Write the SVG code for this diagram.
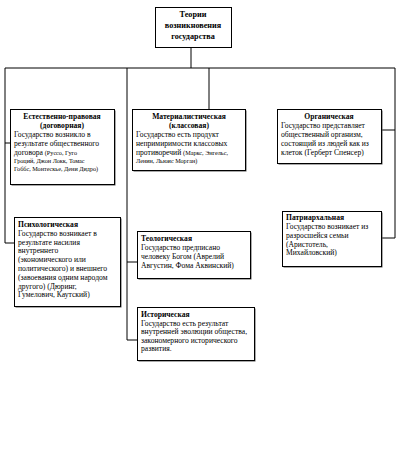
<svg xmlns="http://www.w3.org/2000/svg" width="404" height="449" viewBox="0 0 404 449">
<style>
  text { font-family: "Liberation Serif", "Times New Roman", serif; font-size: 7.6px; fill: #000; }
  .b { font-weight: bold; }
  .c { text-anchor: middle; }
  .s { font-size: 6.2px; }
  .box { fill: #fff; stroke: #000; stroke-width: 1; }
  .sh { fill: #555; }
  .ln { stroke: #000; stroke-width: 1; fill: none; }
</style>
<rect width="404" height="449" fill="#fff"/>
<g id="connectors">
  <path class="ln" d="M191 47 V68 M5 68 H395 M5 68 V243 H14 M5 143 H10 M127 68 V340 H137 M127 262 H137 M209 68 V109 M395 68 V238 H382 M395 130 H382"/>
</g>
<g id="root">
  <rect class="box" x="155.5" y="7.5" width="76" height="40"/>
  <text class="b c" x="193" y="17" style="font-size:8.2px">Теории</text>
  <text class="b c" x="193" y="28" style="font-size:8.2px">возникновения</text>
  <text class="b c" x="193" y="39" style="font-size:8.2px">государства</text>
</g>
<g id="natural">
  <rect class="sh" x="11.5" y="110.5" width="104" height="75"/>
  <rect class="box" x="10.5" y="109.5" width="104" height="75"/>
  <text class="b c" x="62" y="119">Естественно-правовая</text>
  <text class="b c" x="62" y="128">(договорная)</text>
  <text x="14" y="137">Государство возникло в</text>
  <text x="14" y="146">результате общественного</text>
  <text x="14" y="155">договора <tspan class="s">(Руссо, Гуго</tspan></text>
  <text class="s" x="14" y="163">Гроций, Джон Локк, Томас</text>
  <text class="s" x="14" y="171">Гоббс, Монтескье, Дени Дидро)</text>
</g>
<g id="materialist">
  <rect class="sh" x="133.5" y="110.5" width="113" height="61"/>
  <rect class="box" x="132.5" y="109.5" width="113" height="61"/>
  <text class="b c" x="189" y="119">Материалистическая</text>
  <text class="b c" x="189" y="128">(классовая)</text>
  <text x="136" y="137">Государство есть продукт</text>
  <text x="136" y="146">непримиримости классовых</text>
  <text x="136" y="155">противоречий <tspan class="s">(Маркс, Энгельс,</tspan></text>
  <text class="s" x="136" y="163">Ленин, Льюис Морган)</text>
</g>
<g id="organic">
  <rect class="sh" x="278.5" y="110.5" width="104" height="54"/>
  <rect class="box" x="277.5" y="109.5" width="104" height="54"/>
  <text class="b c" x="329" y="119">Органическая</text>
  <text x="281" y="128">Государство представляет</text>
  <text x="281" y="137">общественный организм,</text>
  <text x="281" y="146">состоящий из людей как из</text>
  <text x="281" y="155">клеток (Герберт Спенсер)</text>
</g>
<g id="psychological">
  <rect class="sh" x="15.5" y="218.5" width="106" height="89"/>
  <rect class="box" x="14.5" y="217.5" width="106" height="89"/>
  <text class="b" x="18" y="227">Психологическая</text>
  <text x="18" y="236">Государство возникает в</text>
  <text x="18" y="245">результате насилия</text>
  <text x="18" y="253">внутреннего</text>
  <text x="18" y="262">(экономического или</text>
  <text x="18" y="271">политического) и внешнего</text>
  <text x="18" y="280">(завоевания одним народом</text>
  <text x="18" y="289">другого) (Дюринг,</text>
  <text x="18" y="297">Гумелович, Каутский)</text>
</g>
<g id="theological">
  <rect class="sh" x="138.5" y="232.5" width="113" height="47"/>
  <rect class="box" x="137.5" y="231.5" width="113" height="47"/>
  <text class="b" x="141" y="241">Теологическая</text>
  <text x="141" y="250">Государство предписано</text>
  <text x="141" y="259">человеку Богом (Аврелий</text>
  <text x="141" y="268">Августин, Фома Аквинский)</text>
</g>
<g id="historical">
  <rect class="sh" x="138.5" y="308.5" width="117" height="53"/>
  <rect class="box" x="137.5" y="307.5" width="117" height="53"/>
  <text class="b" x="141" y="317">Историческая</text>
  <text x="141" y="326">Государство есть результат</text>
  <text x="141" y="334">внутренней эволюции общества,</text>
  <text x="141" y="343">закономерного исторического</text>
  <text x="141" y="351">развития.</text>
</g>
<g id="patriarchal">
  <rect class="sh" x="283.5" y="212.5" width="99" height="55"/>
  <rect class="box" x="282.5" y="211.5" width="99" height="55"/>
  <text class="b" x="286" y="220">Патриархальная</text>
  <text x="286" y="229">Государство возникает из</text>
  <text x="286" y="238">разросшейся семьи</text>
  <text x="286" y="247">(Аристотель,</text>
  <text x="286" y="255">Михайловский)</text>
</g>
</svg>
